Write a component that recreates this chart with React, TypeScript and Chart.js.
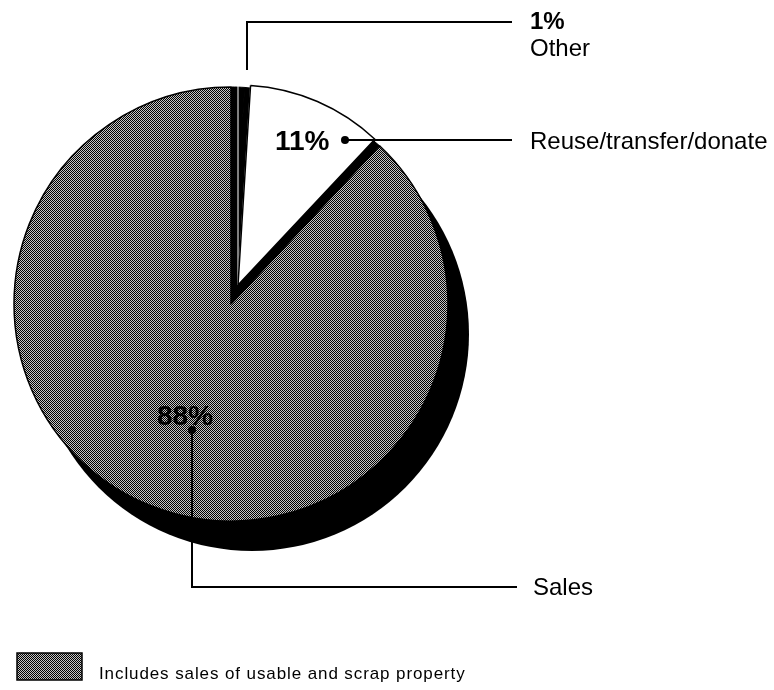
import React, { useEffect, useRef } from 'react';
import { Chart, registerables } from 'chart.js';

Chart.register(...registerables);

// ---- data ----
const categories: string[] = ['Other', 'Reuse/transfer/donate', 'Sales'];
const shares: number[] = [1, 11, 88];
const legendNote: string = 'Includes sales of usable and scrap property';

const FONT = '"Liberation Sans", Arial, Helvetica, sans-serif';

function makeDither(): CanvasPattern | string {
  const c = document.createElement('canvas');
  c.width = 2;
  c.height = 2;
  const g = c.getContext('2d');
  if (!g) return '#808080';
  g.fillStyle = '#c4c4c4';
  g.fillRect(0, 0, 2, 2);
  g.fillStyle = '#000';
  g.fillRect(0, 0, 1, 1);
  g.fillRect(1, 1, 1, 1);
  return g.createPattern(c, 'repeat') || '#808080';
}

const shadowPlugin = {
  id: 'pieShadow',
  beforeDatasetsDraw(chart: any) {
    const arc = chart.getDatasetMeta(0).data[0] as any;
    if (!arc) return;
    const ctx = chart.ctx as CanvasRenderingContext2D;
    ctx.save();
    ctx.fillStyle = '#000';
    ctx.beginPath();
    ctx.arc(arc.x + 21, arc.y + 30, arc.outerRadius, 0, Math.PI * 2);
    ctx.fill();
    ctx.restore();
  },
};

function makeAnnotationPlugin(dither: CanvasPattern | string) {
  return {
    id: 'annotations',
    afterDraw(chart: any) {
      const ctx = chart.ctx as any;
      ctx.save();
      ctx.strokeStyle = '#000';
      ctx.fillStyle = '#000';
      ctx.lineWidth = 2;
      ctx.lineCap = 'butt';
      ctx.lineJoin = 'miter';

      // Other leader
      ctx.beginPath();
      ctx.moveTo(247, 70);
      ctx.lineTo(247, 22);
      ctx.lineTo(512, 22);
      ctx.stroke();

      // Reuse leader
      ctx.beginPath();
      ctx.arc(345, 140, 4, 0, Math.PI * 2);
      ctx.fill();
      ctx.beginPath();
      ctx.moveTo(345, 140);
      ctx.lineTo(512, 140);
      ctx.stroke();

      // Sales leader
      ctx.beginPath();
      ctx.arc(192, 430, 4, 0, Math.PI * 2);
      ctx.fill();
      ctx.beginPath();
      ctx.moveTo(192, 430);
      ctx.lineTo(192, 587);
      ctx.lineTo(517, 587);
      ctx.stroke();

      ctx.textAlign = 'left';
      ctx.textBaseline = 'alphabetic';

      // percentage labels
      ctx.font = `bold 24px ${FONT}`;
      ctx.fillText(`${shares[0]}%`, 530, 29);
      ctx.font = `bold 28px ${FONT}`;
      ctx.fillText(`${shares[1]}%`, 275, 150);
      ctx.fillText(`${shares[2]}%`, 157, 425);

      // category labels
      ctx.font = `24px ${FONT}`;
      ctx.fillText(categories[0], 530, 56);
      ctx.fillText(categories[1], 530, 149);
      ctx.fillText(categories[2], 533, 595);

      // legend note
      ctx.fillStyle = dither;
      ctx.fillRect(17, 653, 65, 27);
      ctx.lineWidth = 1.5;
      ctx.strokeRect(17, 653, 65, 27);
      ctx.fillStyle = '#000';
      ctx.font = `17px ${FONT}`;
      if ('letterSpacing' in ctx) ctx.letterSpacing = '0.9px';
      ctx.fillText(legendNote, 99, 679);
      ctx.restore();
    },
  };
}

export default function App() {
  const baseRef = useRef<HTMLCanvasElement>(null);
  const topRef = useRef<HTMLCanvasElement>(null);

  useEffect(() => {
    if (!baseRef.current || !topRef.current) return;
    const dither = makeDither();

    const base = new Chart(baseRef.current, {
      type: 'pie',
      data: {
        labels: categories,
        datasets: [
          {
            data: shares,
            backgroundColor: ['#000', '#000', dither as any],
            borderColor: ['#000', '#000', '#000'],
            borderWidth: [1, 1, 1.5],
            radius: 217,
          } as any,
        ],
      },
      options: {
        responsive: false,
        animation: false,
        events: [],
        layout: { padding: { left: 0, top: 0, right: 312, bottom: 82 } },
        plugins: { legend: { display: false }, tooltip: { enabled: false } },
      } as any,
      plugins: [shadowPlugin],
    });

    const top = new Chart(topRef.current, {
      type: 'pie',
      data: {
        labels: categories,
        datasets: [
          {
            data: shares,
            backgroundColor: ['rgba(0,0,0,0)', '#fff', 'rgba(0,0,0,0)'],
            borderColor: ['#fff', '#000', 'rgba(0,0,0,0)'],
            borderWidth: [1, 1.5, 0],
            radius: 200,
          } as any,
        ],
      },
      options: {
        responsive: false,
        animation: false,
        events: [],
        layout: { padding: { left: 0, top: 0, right: 298, bottom: 120 } },
        plugins: { legend: { display: false }, tooltip: { enabled: false } },
      } as any,
      plugins: [makeAnnotationPlugin(dither)],
    });

    return () => {
      base.destroy();
      top.destroy();
    };
  }, []);

  const canvasStyle: React.CSSProperties = {
    position: 'absolute',
    left: 0,
    top: 0,
    width: 774,
    height: 690,
  };

  return (
    <div
      style={{
        position: 'absolute',
        left: 0,
        top: 0,
        width: 774,
        height: 690,
        background: '#fff',
        overflow: 'hidden',
      }}
    >
      <canvas ref={baseRef} width={774} height={690} style={canvasStyle} />
      <canvas ref={topRef} width={774} height={690} style={canvasStyle} />
    </div>
  );
}
